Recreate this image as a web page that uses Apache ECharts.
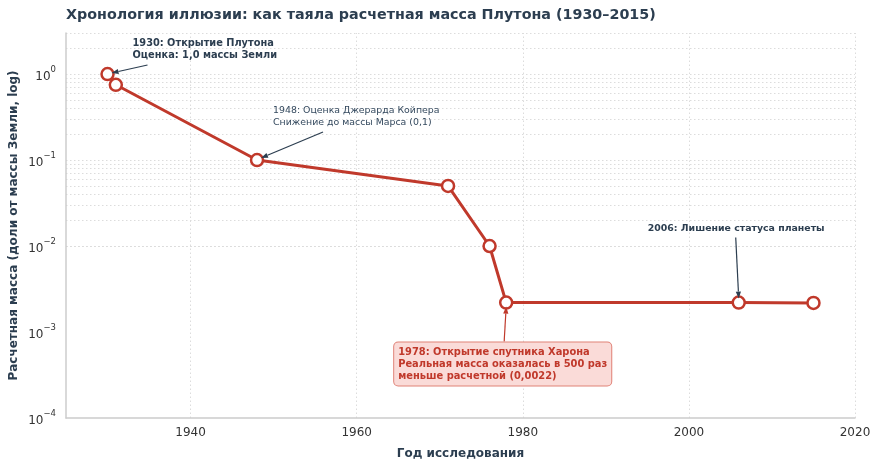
<!DOCTYPE html>
<html>
<head>
<meta charset="utf-8">
<script src="https://cdn.jsdelivr.net/npm/echarts@6/dist/echarts.min.js"></script>
<style>
  html, body { margin: 0; padding: 0; background: #fff; }
  #chart { width: 877px; height: 469px; }
</style>
</head>
<body>
<div id="chart"></div>
<script>
// estimated mass of Pluto, in Earth masses
const years = [1930, 1931, 1948, 1971, 1976, 1978, 2006, 2015];
const masses = [1.0, 0.75, 0.1, 0.05, 0.01, 0.0022, 0.0022, 0.00218];

const xTicks = [1940, 1960, 1980, 2000, 2020];
const yDecades = [1e-4, 1e-3, 1e-2, 1e-1, 1];
const minorFactors = [2, 3, 4, 5, 6, 7, 8, 9];

const RED = '#c0392b';
const NAVY = '#2c3e50';
const FONT = 'DejaVu Sans';

// minor grid lines for the log axis (2..9 in every decade, up to axis max)
let yGrid = [];
yDecades.forEach(d => {
    yGrid.push(d);
    minorFactors.forEach(f => {
        if (d * f <= 3.0001) yGrid.push(d * f);
    });
});

const chart = echarts.init(document.getElementById('chart'), null, { renderer: 'canvas' });

const gridLine = { color: '#dcdcdc', type: [1.5, 2.5], width: 1 };

let option = {
    animation: false,
    textStyle: { fontFamily: FONT },
    title: {
        text: 'Хронология иллюзии: как таяла расчетная масса Плутона (1930–2015)',
        left: 61,
        top: 3,
        textStyle: { fontFamily: FONT, fontSize: 14.3, fontWeight: 'bold', color: NAVY }
    },
    grid: { left: 66, right: 22, top: 33, bottom: 51, outerBoundsMode: 'none' },
    xAxis: {
        type: 'value',
        min: 1925,
        max: 2020,
        interval: 5,
        name: 'Год исследования',
        nameLocation: 'middle',
        nameGap: 30,
        nameMoveOverlap: false,
        nameTextStyle: { fontFamily: FONT, fontSize: 12, fontWeight: 'bold', color: NAVY },
        axisLine: { show: true, lineStyle: { color: '#cccccc', width: 1.5 } },
        axisTick: { show: false },
        splitLine: { show: false },
        axisLabel: {
            fontFamily: FONT,
            fontSize: 12,
            color: '#333',
            margin: 9,
            formatter: (value) => xTicks.includes(value) ? String(value) : ''
        }
    },
    yAxis: {
        type: 'log',
        logBase: 10,
        min: 1e-4,
        max: 3,
        interval: 1,
        name: 'Расчетная масса (доли от массы Земли, log)',
        nameLocation: 'middle',
        nameGap: 46,
        nameMoveOverlap: false,
        nameTextStyle: { fontFamily: FONT, fontSize: 12, fontWeight: 'bold', color: NAVY },
        axisLine: { show: true, lineStyle: { color: '#cccccc', width: 1.5 } },
        axisTick: { show: false },
        splitLine: { show: false },
        axisLabel: {
            fontFamily: FONT,
            color: '#333',
            margin: 10,
            formatter: (value) => {
                let e = Math.round(Math.log10(value));
                if (Math.abs(value - Math.pow(10, e)) / value > 1e-6) return '';
                let exp = e < 0 ? '\u2212' + Math.abs(e) : String(e);
                return '{b|10}{s|' + exp + '}';
            },
            rich: {
                b: { fontFamily: FONT, fontSize: 12, color: '#333', lineHeight: 17, verticalAlign: 'bottom' },
                s: { fontFamily: FONT, fontSize: 8.5, color: '#333', lineHeight: 17, verticalAlign: 'top' }
            }
        }
    },
    series: [
        {
            // grid lines only
            type: 'line',
            data: [],
            silent: true,
            z: 0,
            markLine: {
                silent: true,
                symbol: ['none', 'none'],
                label: { show: false },
                lineStyle: gridLine,
                z: 0,
                data: yGrid.map(v => ({ yAxis: v }))
                    .concat(xTicks.map(v => ({ xAxis: v })))
            }
        },
        {
            name: 'Масса Плутона',
            type: 'line',
            data: years.map((y, i) => [y, masses[i]]),
            z: 5,
            symbol: 'circle',
            symbolSize: 12,
            showSymbol: true,
            clip: false,
            lineStyle: { color: RED, width: 3 },
            itemStyle: { color: '#fff', borderColor: RED, borderWidth: 2.5 },
            emphasis: { disabled: true }
        }
    ]
};
chart.setOption(option);

// annotations: text and arrow placed in pixels relative to the data point
const notes = [
    {
        idx: 0,
        text: '1930: Открытие Плутона\nОценка: 1,0 массы Земли',
        bold: true, size: 9.8, color: NAVY, arrow: NAVY,
        textAt: [25, -37], from: [40, -9], to: [4, -1]
    },
    {
        idx: 2,
        text: '1948: Оценка Джерарда Койпера\nСнижение до массы Марса (0,1)',
        bold: false, size: 9.4, color: '#34495e', arrow: NAVY,
        textAt: [16, -55], from: [66, -28], to: [4, -2]
    },
    {
        idx: 6,
        text: '2006: Лишение статуса планеты',
        bold: true, size: 9.4, color: NAVY, arrow: NAVY,
        textAt: [-91, -80], from: [-3, -65], to: [0, -4]
    },
    {
        idx: 5,
        text: '1978: Открытие спутника Харона\nРеальная масса оказалась в 500 раз\nменьше расчетной (0,0022)',
        bold: true, size: 9.9, color: RED, arrow: RED, box: true,
        textAt: [-112, 40], from: [-2, 39], to: [0, 4]
    }
];

function arrowParts(x1, y1, x2, y2, color) {
    let ang = Math.atan2(y2 - y1, x2 - x1);
    let len = 7, half = 2.6;
    let bx = x2 - len * Math.cos(ang), by = y2 - len * Math.sin(ang);
    let px = -Math.sin(ang) * half, py = Math.cos(ang) * half;
    return [
        {
            type: 'line', silent: true, z: 10,
            shape: { x1: x1, y1: y1, x2: bx, y2: by },
            style: { stroke: color, lineWidth: 1.2 }
        },
        {
            type: 'polygon', silent: true, z: 10,
            shape: { points: [[x2, y2], [bx + px, by + py], [bx - px, by - py]] },
            style: { fill: color }
        }
    ];
}

function drawNotes() {
    let elements = [];
    notes.forEach(n => {
        let p = chart.convertToPixel({ xAxisIndex: 0, yAxisIndex: 0 }, [years[n.idx], masses[n.idx]]);
        let tx = p[0] + n.textAt[0], ty = p[1] + n.textAt[1];
        let textStyle = {
            text: n.text,
            x: tx, y: ty,
            fill: n.color,
            font: (n.bold ? 'bold ' : '') + n.size + 'px "' + FONT + '"',
            lineHeight: 12,
            textAlign: 'left',
            textVerticalAlign: 'top'
        };
        if (n.box) {
            textStyle.backgroundColor = '#fadbd8';
            textStyle.borderColor = '#e08277';
            textStyle.borderWidth = 1;
            textStyle.borderRadius = 4;
            textStyle.padding = [4, 4, 3, 4];
        }
        elements.push({ type: 'text', silent: true, z: 11, style: textStyle });
        elements.push(...arrowParts(p[0] + n.from[0], p[1] + n.from[1], p[0] + n.to[0], p[1] + n.to[1], n.arrow));
    });
    chart.setOption({ graphic: { elements: elements } });
}
drawNotes();
</script>
</body>
</html>
